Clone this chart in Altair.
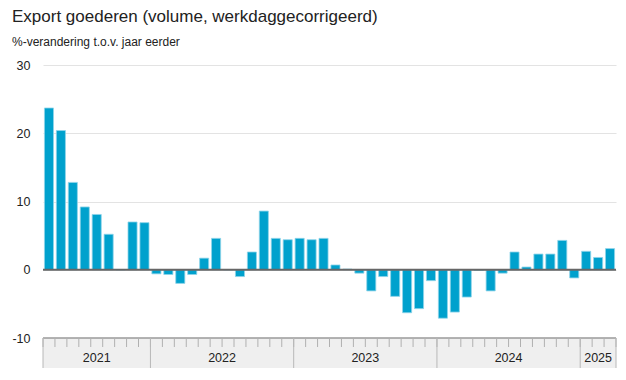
import altair as alt
import pandas as pd

# ---- data ----
months = (
    ["2021-%02d" % m for m in range(4, 13)]
    + ["2022-%02d" % m for m in range(1, 13)]
    + ["2023-%02d" % m for m in range(1, 13)]
    + ["2024-%02d" % m for m in range(1, 13)]
    + ["2025-%02d" % m for m in range(1, 4)]
)
values = [
    23.7, 20.4, 12.8, 9.2, 8.1, 5.2, 0.0, 7.0, 6.9,            # 2021 apr-dec
    -0.6, -0.7, -2.0, -0.7, 1.7, 4.6, 0.0, -1.0, 2.6, 8.6, 4.6, 4.4,   # 2022
    4.6, 4.4, 4.6, 0.7, 0.1, -0.5, -3.1, -1.0, -3.9, -6.3, -5.7, -1.6,  # 2023
    -7.1, -6.2, -4.0, -0.1, -3.1, -0.5, 2.6, 0.4, 2.3, 2.3, 4.3, -1.2,  # 2024
    2.7, 1.8, 3.1,                                              # 2025 jan-mar
]
years = ["2021", "2022", "2023", "2024", "2025"]
y_ticks = [-10, 0, 10, 20, 30]

title = "Export goederen (volume, werkdaggecorrigeerd)"
subtitle = "%-verandering t.o.v. jaar eerder"

# ---- derived tables ----
df = pd.DataFrame({"maand": months, "waarde": values})
n = len(months)
year_of = [m[:4] for m in months]
starts, ends = [], []
for yr in years:
    idx = [i for i, y in enumerate(year_of) if y == yr]
    starts.append(idx[0])
    ends.append(idx[-1] + 1)
years_df = pd.DataFrame({"jaar": years, "start": starts, "eind": ends})
years_df["mid"] = (years_df["start"] + years_df["eind"]) / 2
seps_df = pd.DataFrame({"pos": sorted(set(starts + ends))})
ticks_df = pd.DataFrame({"pos": list(range(n + 1))})
band_df = pd.DataFrame({"a": [0], "b": [n]})

W, H = 573, 273
BOTTOM = 30
FONT = "Liberation Sans"
pos_scale = alt.Scale(domain=[0, n], nice=False, zero=False)

bars = alt.Chart(df).mark_bar(color="#00a1cd", stroke="#8fd4ea", strokeWidth=0.8).encode(
    x=alt.X("maand:N", sort=None, axis=None,
            scale=alt.Scale(paddingInner=0.24, paddingOuter=0.12)),
    y=alt.Y("waarde:Q", scale=alt.Scale(domain=[-10, 30], nice=False),
            axis=alt.Axis(values=y_ticks, title=None, ticks=False, domain=False,
                          grid=True, gridColor="#e3e3e3", gridWidth=1.2,
                          labelExpr="'' + datum.value",
                          labelFont=FONT, labelFontSize=12.5, labelColor="#222",
                          labelPadding=13)),
)

band = alt.Chart(band_df).mark_rect(color="#efefef", clip=False).encode(
    x=alt.X("a:Q", scale=pos_scale, axis=None), x2="b:Q",
    y=alt.value(H), y2=alt.value(H + BOTTOM),
)
band_top = alt.Chart(band_df).mark_rule(color="#9a9a9a", strokeWidth=1.5, clip=False).encode(
    x=alt.X("a:Q", scale=pos_scale, axis=None), x2="b:Q",
    y=alt.value(H),
)
month_ticks = alt.Chart(ticks_df).mark_rule(color="#b0b0b0", strokeWidth=1, clip=False).encode(
    x=alt.X("pos:Q", scale=pos_scale, axis=None),
    y=alt.value(H), y2=alt.value(H + 9),
)
year_seps = alt.Chart(seps_df).mark_rule(color="#b8b8b8", strokeWidth=1, clip=False).encode(
    x=alt.X("pos:Q", scale=pos_scale, axis=None),
    y=alt.value(H), y2=alt.value(H + BOTTOM),
)
year_labels = alt.Chart(years_df).mark_text(font=FONT, fontSize=12.5, color="#222",
                                             baseline="middle", clip=False).encode(
    x=alt.X("mid:Q", scale=pos_scale, axis=None),
    y=alt.value(H + 20),
    text="jaar:N",
)
zero = alt.Chart(pd.DataFrame({"z": [0]})).mark_rule(color="#666666", strokeWidth=2).encode(
    y="z:Q",
)

chart = alt.layer(
    bars, band, band_top, month_ticks, year_seps, year_labels, zero
).resolve_scale(x="independent").properties(
    width=W, height=H,
    autosize=alt.AutoSizeParams(type="none"),
    padding={"left": 35, "top": 57, "right": 2, "bottom": BOTTOM},
    title=alt.TitleParams(
        text=title, subtitle=subtitle, anchor="start", frame="group",
        dx=-31, offset=10, font=FONT, fontSize=17, fontWeight="normal", color="#222",
        subtitleFont=FONT, subtitleFontSize=12, subtitleColor="#222", subtitlePadding=11,
    ),
).configure_view(stroke=None)

chart.save("out.html", embed_options={"renderer": "svg", "actions": False})
